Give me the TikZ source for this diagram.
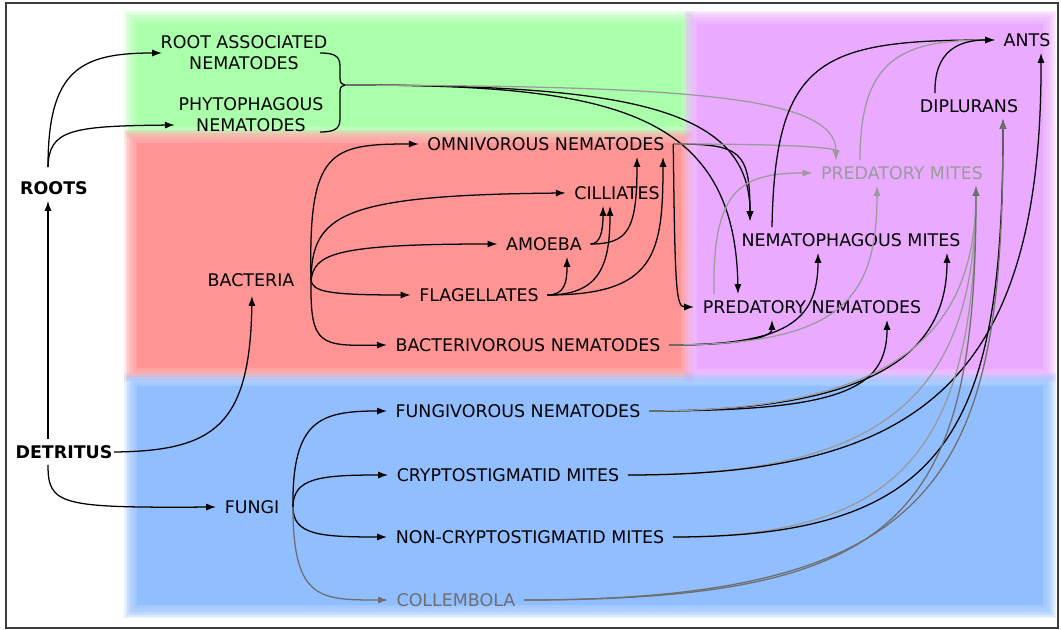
\documentclass[tikz,border=0pt]{standalone}
\usepackage{fontspec}
\setmainfont{DejaVu Sans}
\usetikzlibrary{arrows.meta,calc}
\definecolor{zoneRoot}{HTML}{AAFFAA}
\definecolor{zoneBact}{HTML}{FF9494}
\definecolor{zonePred}{HTML}{EAAAFF}
\definecolor{zoneFung}{HTML}{91BEFF}
\definecolor{webGrey}{HTML}{9A9A9A}
\definecolor{webDark}{HTML}{6E6E6E}
\definecolor{frameGrey}{HTML}{3C3C3C}

\begin{document}
\begin{tikzpicture}[
            x=0.025cm, y=-0.025cm,
            every node/.style={font={\fontsize{12.4}{15}\selectfont}},
            taxon/.style={inner xsep=6pt, inner ysep=4.5pt, text height=9pt, text depth=0pt},
            taxontwo/.style={inner xsep=6pt, inner ysep=3pt, align=center},
            source/.style={taxon, inner xsep=1pt, font={\fontsize{12.4}{15}\selectfont\bfseries}},
            arrow/.style={-{Latex[length=7pt,width=5pt]}, line width=0.9pt, draw=black},
            greyarrow/.style={arrow, draw=webGrey},
            darkarrow/.style={arrow, draw=webDark},
            link/.style={line width=0.9pt, draw=black}
        ]
        \useasboundingbox (0,0) rectangle (1061,630);

        %---------------- Zones (soft edges) ----------------%
        \foreach \c/\xa/\ya/\xb/\yb in {zoneRoot/130/17/688/133, zoneBact/130/136/688/375,
                                        zonePred/690/17/1050/376, zoneFung/130/379/1050/612}{
            \foreach \g in {6,4.5,...,-6}{
                \fill[\c, opacity=0.2] (\xa-\g,\ya-\g) rectangle (\xb+\g,\yb+\g);
            }
            \fill[\c] (\xa+7,\ya+7) rectangle (\xb-7,\yb-7);
        }
        \draw[line width=1.4pt, draw=frameGrey] (6,3) rectangle (1058,628);

        %---------------- Sources ----------------%
        \node[source] (roots) at (54,188) {ROOTS};
        \node[source] (detritus) at (64,452) {DETRITUS};

        %---------------- Root zone ----------------%
        \node[taxontwo] (rootnem) at (244,53) {ROOT ASSOCIATED\\NEMATODES};
        \node[taxontwo] (phytonem) at (251,115) {PHYTOPHAGOUS\\NEMATODES};
        \coordinate (rootgroup) at (345,85);

        %---------------- Bacterial zone ----------------%
        \node[taxon] (bacteria) at (251,280) {BACTERIA};
        \node[taxon] (omni) at (546,144) {OMNIVOROUS NEMATODES};
        \node[taxon] (cilli) at (617,193) {CILLIATES};
        \node[taxon] (amoeba) at (544,244) {AMOEBA};
        \node[taxon] (flag) at (479,295) {FLAGELLATES};
        \node[taxon] (bactnem) at (528,345) {BACTERIVOROUS NEMATODES};

        %---------------- Predator zone ----------------%
        \node[taxon] (prednem) at (812,307) {PREDATORY NEMATODES};
        \node[taxon] (nemmites) at (851,240) {NEMATOPHAGOUS MITES};
        \node[taxon, text=webGrey] (predmites) at (902,173) {PREDATORY MITES};
        \node[taxon] (diplu) at (969,106) {DIPLURANS};
        \node[taxon] (ants) at (1027,40) {ANTS};

        %---------------- Fungal zone ----------------%
        \node[taxon] (fungi) at (252,507) {FUNGI};
        \node[taxon] (fungnem) at (518,411) {FUNGIVOROUS NEMATODES};
        \node[taxon] (crypto) at (508,475) {CRYPTOSTIGMATID MITES};
        \node[taxon] (noncrypto) at (530,537) {NON-CRYPTOSTIGMATID MITES};
        \node[taxon, text=webDark] (collem) at (456,600) {COLLEMBOLA};

        %================ Roots and detritus =================%
        \draw[arrow] ($(roots.north)+(-6,-8)$) .. controls (48,70) and (80,53) .. ($(rootnem.west)+(10,0)$);
        \draw[arrow] ($(roots.north)+(-6,-8)$) .. controls (49,130) and (70,126) .. ($(phytonem.west)+(5,10)$);
        \draw[arrow] ($(detritus.north)+(-16,0)$) -- ($(roots.south)+(-6,0)$);
        \draw[arrow] (detritus.east) .. controls (215,451) and (250,425) .. ($(bacteria.south)+(1,3)$);
        \draw[arrow] ($(detritus.south)+(-16,0)$) .. controls (48,505) and (60,508) .. (fungi.west);

        %================ Root nematodes =================%
        \draw[link] (320,53) .. controls (338,53) and (340,58) .. (340,68) -- (340,78)
            .. controls (340,83) and (342,85) .. (rootgroup)
            .. controls (342,85) and (340,87) .. (340,92) -- (340,117)
            .. controls (340,127) and (338,132) .. (320,132);
        \draw[arrow] (rootgroup) .. controls (620,85) and (750,105) .. ($(nemmites.north)+(-101,-6)$);
        \draw[arrow] (rootgroup) .. controls (600,85) and (735,105) .. ($(prednem.north)+(-74,0)$);
        \draw[greyarrow] (rootgroup) .. controls (680,86) and (836,95) .. ($(predmites.north)+(-66,0)$);

        %================ Bacterial channel =================%
        \coordinate (bactout) at ($(bacteria.east)+(8,0)$);
        \draw[arrow] (bactout) .. controls (308,150) and (330,144) .. (omni.west);
        \draw[arrow] (bactout) .. controls (312,215) and (340,195) .. (cilli.west);
        \draw[arrow] (bactout) .. controls (315,255) and (330,244) .. (amoeba.west);
        \draw[arrow] (bactout) .. controls (312,292) and (330,295) .. (flag.west);
        \draw[arrow] (bactout) .. controls (310,346) and (320,346) .. (bactnem.west);

        \draw[arrow] (amoeba.east) .. controls (600,244) and (603,232) .. ($(cilli.south)+(-14,0)$);
        \draw[arrow] (amoeba.east) .. controls (628,244) and (637,230) .. ($(omni.south)+(91,0)$);
        \draw[arrow] (flag.east) .. controls (565,295) and (567,282) .. ($(amoeba.south)+(23,0)$);
        \draw[arrow] (flag.east) .. controls (600,295) and (610,265) .. ($(cilli.south)+(-7,0)$);
        \draw[arrow] (flag.east) .. controls (655,295) and (663,255) .. ($(omni.south)+(117,0)$);

        \draw[arrow] (omni.east) .. controls (740,144) and (750,150) .. ($(nemmites.north)+(-101,-6)$);
        \draw[arrow] (omni.east) .. controls (675,290) and (676,307) .. (prednem.west);
        \draw[greyarrow] (omni.east) .. controls (800,144) and (836,148) .. ($(predmites.north)+(-66,0)$);

        \draw[arrow] (bactnem.east) .. controls (755,345) and (772,335) .. ($(prednem.south)+(-40,0)$);
        \draw[arrow] (bactnem.east) .. controls (785,345) and (818,322) .. ($(nemmites.south)+(-33,0)$);
        \draw[greyarrow] (bactnem.east) .. controls (840,345) and (877,300) .. ($(predmites.south)+(-25,0)$);

        %================ Predators =================%
        \draw[greyarrow] ($(prednem.north)+(-98,0)$) .. controls (712,190) and (740,173) .. (predmites.west);
        \draw[arrow] ($(nemmites.north)+(-79,0)$) .. controls (775,60) and (820,40) .. (ants.west);
        \draw[greyarrow] ($(predmites.north)+(-42,0)$) .. controls (860,60) and (900,40) .. (ants.west);
        \draw[arrow] ($(diplu.north)+(-34,0)$) .. controls (934,50) and (960,40) .. (ants.west);

        %================ Fungal channel =================%
        \coordinate (fungiout) at ($(fungi.east)+(5,0)$);
        \draw[arrow] (fungiout) .. controls (292,420) and (320,411) .. (fungnem.west);
        \draw[arrow] (fungiout) .. controls (293,478) and (320,475) .. (crypto.west);
        \draw[arrow] (fungiout) .. controls (293,535) and (320,537) .. (noncrypto.west);
        \draw[darkarrow] (fungiout) .. controls (293,600) and (320,600) .. (collem.west);

        \draw[arrow] (fungnem.east) .. controls (840,411) and (887,390) .. ($(prednem.south)+(75,0)$);
        \draw[arrow] (fungnem.east) .. controls (880,411) and (947,350) .. ($(nemmites.south)+(96,0)$);
        \draw[greyarrow] (fungnem.east) .. controls (900,411) and (975,330) .. ($(predmites.south)+(74,0)$);

        \draw[greyarrow] (crypto.east) .. controls (880,475) and (975,400) .. ($(predmites.south)+(74,0)$);
        \draw[arrow] (crypto.east) .. controls (910,475) and (1042,390) .. ($(ants.south)+(14,0)$);
        \draw[greyarrow] (noncrypto.east) .. controls (900,537) and (976,450) .. ($(predmites.south)+(74,0)$);
        \draw[arrow] (noncrypto.east) .. controls (950,537) and (1003,430) .. ($(diplu.south)+(34,0)$);
        \draw[darkarrow] (collem.east) .. controls (900,600) and (976,520) .. ($(predmites.south)+(74,0)$);
        \draw[darkarrow] (collem.east) .. controls (950,600) and (1003,470) .. ($(diplu.south)+(34,0)$);

\end{tikzpicture}
\end{document}
